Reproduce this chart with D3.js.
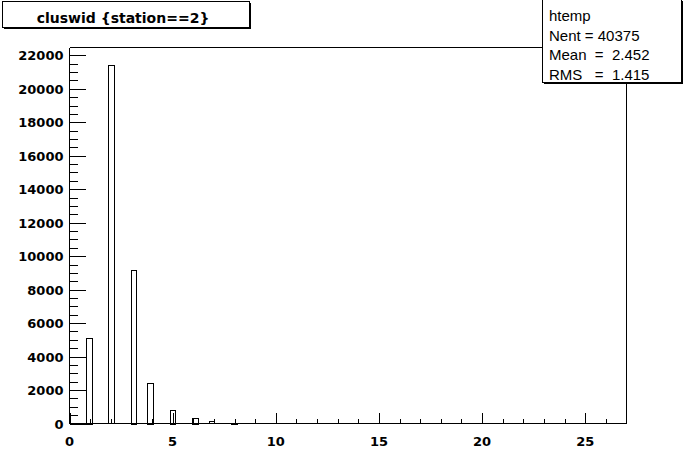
<!DOCTYPE html>
<html>
<head>
<meta charset="utf-8">
<script src="https://cdn.jsdelivr.net/npm/d3@7"></script>
<style>
  html, body { margin: 0; padding: 0; background: #fff; }
  svg { display: block; }
  .tick-label { font-family: "DejaVu Sans", sans-serif; font-weight: bold; font-size: 13px; }
</style>
</head>
<body>
<div id="chart"></div>
<script>
// histogram "htemp": 100 bins over [0, 27], only non-empty bins listed
const nBins = 100;
const xMin = 0;
const xMax = 27;
const binIndex = [3, 7, 11, 14, 18, 22, 25, 29, 33, 36];
const binCount = [5120, 21400, 9200, 2450, 820, 340, 120, 50, 15, 5];

const titleText = "cluswid {station==2}";
const statsLines = ["htemp", "Nent = 40375", "Mean  =  2.452", "RMS   =  1.415"];

const yMajor = d3.range(0, 22001, 2000);
const yMinor = d3.range(0, 22001, 500);
const xMajor = d3.range(0, 26, 5);
const xMinor = d3.range(0, 27, 1);

const width = 696, height = 472;
const frame = { left: 69.5, right: 626.5, top: 47.5, bottom: 423.5 };

const svg = d3.select("#chart").append("svg")
    .attr("width", width)
    .attr("height", height)
    .attr("shape-rendering", "crispEdges");

const x = d3.scaleLinear().domain([xMin, xMax]).range([frame.left, frame.right]);
const yTop = d3.max(binCount) * 1.05;
const y = d3.scaleLinear().domain([0, yTop]).range([frame.bottom, frame.top]);

const binW = (xMax - xMin) / nBins;

// bars (outline only)
svg.append("g")
    .selectAll("rect")
    .data(binIndex.map((b, i) => ({ lo: xMin + b * binW, hi: xMin + (b + 1) * binW, n: binCount[i] })))
    .enter()
    .append("rect")
    .attr("x", d => Math.round(x(d.lo)) + 0.5)
    .attr("width", d => Math.max(Math.round(x(d.hi)) - Math.round(x(d.lo)), 1))
    .attr("y", d => Math.round(y(d.n)) + 0.5)
    .attr("height", d => Math.max(Math.round(frame.bottom - y(d.n)), 0))
    .attr("fill", "none")
    .attr("stroke", "#000");

// frame top + right
svg.append("path")
    .attr("d", `M${frame.left},${frame.top}H${frame.right}V${frame.bottom}`)
    .attr("fill", "none")
    .attr("stroke", "#000");

// y axis
const yAxis = svg.append("g");
yAxis.append("line")
    .attr("x1", frame.left).attr("x2", frame.left)
    .attr("y1", frame.top).attr("y2", frame.bottom)
    .attr("stroke", "#000");
yAxis.selectAll("line.minor")
    .data(yMinor)
    .enter()
    .append("line")
    .attr("class", "minor")
    .attr("x1", frame.left)
    .attr("x2", d => frame.left + (d % 2000 === 0 ? 16 : 8))
    .attr("y1", d => Math.round(y(d)) + 0.5)
    .attr("y2", d => Math.round(y(d)) + 0.5)
    .attr("stroke", "#000");
yAxis.selectAll("text")
    .data(yMajor)
    .enter()
    .append("text")
    .attr("class", "tick-label")
    .attr("x", frame.left - 6)
    .attr("y", d => y(d) + 5)
    .attr("text-anchor", "end")
    .text(d => d);

// x axis
const xAxis = svg.append("g");
xAxis.append("line")
    .attr("x1", frame.left).attr("x2", frame.right)
    .attr("y1", frame.bottom).attr("y2", frame.bottom)
    .attr("stroke", "#000");
xAxis.selectAll("line.tick")
    .data(xMinor)
    .enter()
    .append("line")
    .attr("class", "tick")
    .attr("x1", d => Math.round(x(d)) + 0.5)
    .attr("x2", d => Math.round(x(d)) + 0.5)
    .attr("y1", frame.bottom)
    .attr("y2", d => frame.bottom - (d % 5 === 0 ? 11 : 5))
    .attr("stroke", "#000");
xAxis.selectAll("text")
    .data(xMajor)
    .enter()
    .append("text")
    .attr("class", "tick-label")
    .attr("x", d => x(d))
    .attr("y", frame.bottom + 22)
    .attr("text-anchor", "middle")
    .text(d => d);

// boxes with ROOT-style shadow
function shadowBox(x0, y0, x1, y1) {
    const g = svg.append("g");
    g.append("rect")
        .attr("x", x0 + 2).attr("y", y0 + 2)
        .attr("width", x1 - x0).attr("height", y1 - y0)
        .attr("fill", "#000");
    g.append("rect")
        .attr("x", x0 + 0.5).attr("y", y0 + 0.5)
        .attr("width", x1 - x0).attr("height", y1 - y0)
        .attr("fill", "#fff")
        .attr("stroke", "#000");
    return g;
}

// title
shadowBox(2, 1, 249, 27)
    .append("text")
    .attr("x", 123)
    .attr("y", 23)
    .attr("text-anchor", "middle")
    .attr("font-family", "DejaVu Sans, sans-serif")
    .attr("font-weight", "bold")
    .attr("font-size", 14)
    .text(titleText);

// stats box
const stats = shadowBox(542, -1, 681, 82);
stats.selectAll("text")
    .data(statsLines)
    .enter()
    .append("text")
    .attr("x", 549)
    .attr("y", (d, i) => 21 + i * 19.5)
    .attr("font-family", "Liberation Sans, Arial, sans-serif")
    .attr("font-size", 15)
    .attr("xml:space", "preserve")
    .style("white-space", "pre")
    .text(d => d);
</script>
</body>
</html>
